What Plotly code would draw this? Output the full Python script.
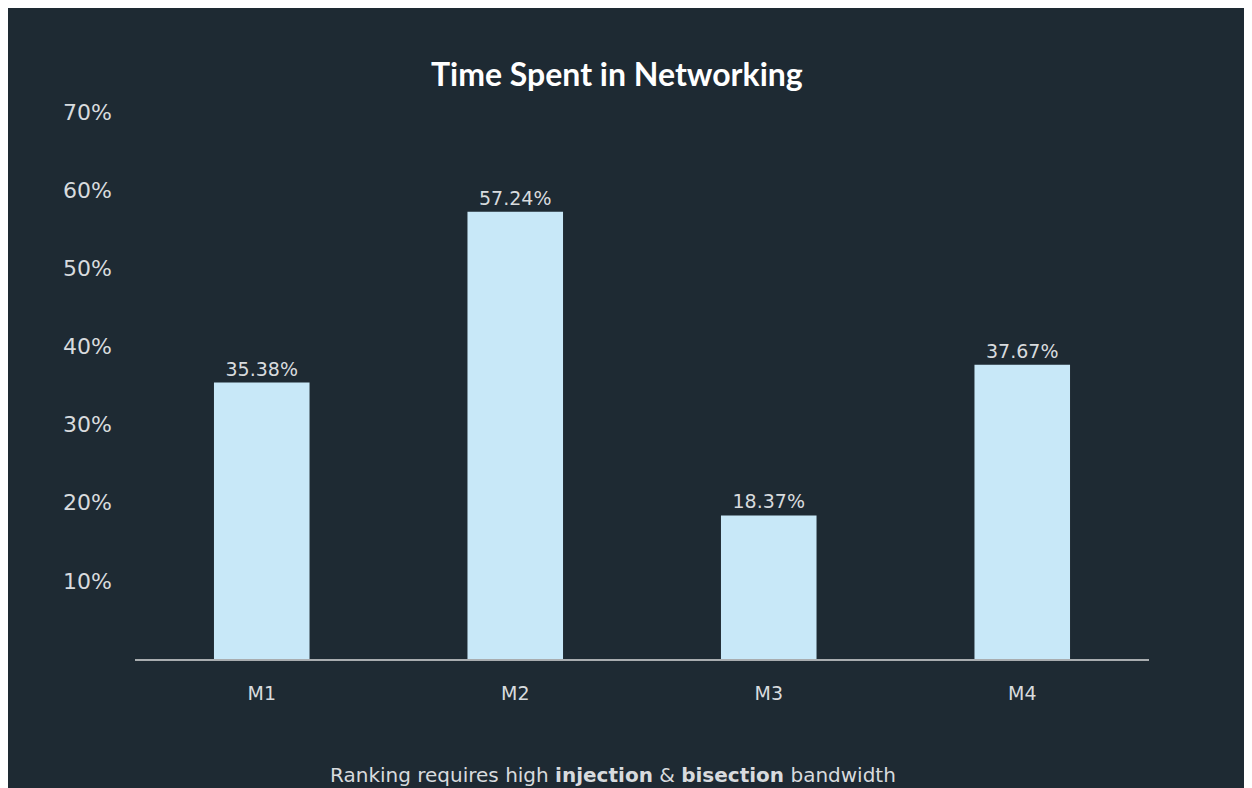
import plotly.graph_objects as go

categories = ["M1", "M2", "M3", "M4"]
values = [35.38, 57.24, 18.37, 37.67]
tick_vals = [10, 20, 30, 40, 50, 60, 70]
tick_text = ["10%", "20%", "30%", "40%", "50%", "60%", "70%"]

W, H = 1260, 788
L, R, T, B = 127, 119, 104, 137
pw, ph = W - L - R, H - T - B

def px(x):
    return (x - L) / pw

def py(y):
    return (H - B - y) / ph

BG = "#1e2a33"
TXT = "#d8dbde"
fig = go.Figure(go.Bar(
    x=categories, y=values,
    marker=dict(color="#c8e8f8", line=dict(width=0)),
    width=0.377,
    text=[f"{v:.2f}%" for v in values],
    textposition="outside",
    textfont=dict(family="DejaVu Sans", size=19, color=TXT),
    cliponaxis=False,
))

fig.update_layout(
    width=W, height=H,
    margin=dict(l=L, r=R, t=T, b=B),
    paper_bgcolor=BG, plot_bgcolor=BG,
    showlegend=False,
    xaxis=dict(showline=True, linecolor="#a9adb0", linewidth=2, showgrid=False,
               ticks="", ticklabelstandoff=16,
               tickfont=dict(family="DejaVu Sans", size=19, color=TXT),
               zeroline=False),
    yaxis=dict(range=[0, 70], tickvals=tick_vals, ticktext=tick_text,
               showgrid=False, zeroline=False, showline=False, ticks="",
               ticklabelstandoff=22,
               tickfont=dict(family="DejaVu Sans", size=22, color=TXT)),
    annotations=[
        dict(text="<b>Time Spent in Networking</b>", xref="paper", yref="paper",
             x=px(609), y=py(65), xanchor="center", yanchor="middle", showarrow=False,
             font=dict(family="Lato", size=32, color="#ffffff")),
        dict(text="Ranking requires high <b>injection</b> &amp; <b>bisection</b> bandwidth",
             xref="paper", yref="paper", x=px(605), y=py(767), xanchor="center",
             yanchor="middle", showarrow=False,
             font=dict(family="DejaVu Sans", size=20, color=TXT)),
    ],
)

fig.write_html("out.html")
